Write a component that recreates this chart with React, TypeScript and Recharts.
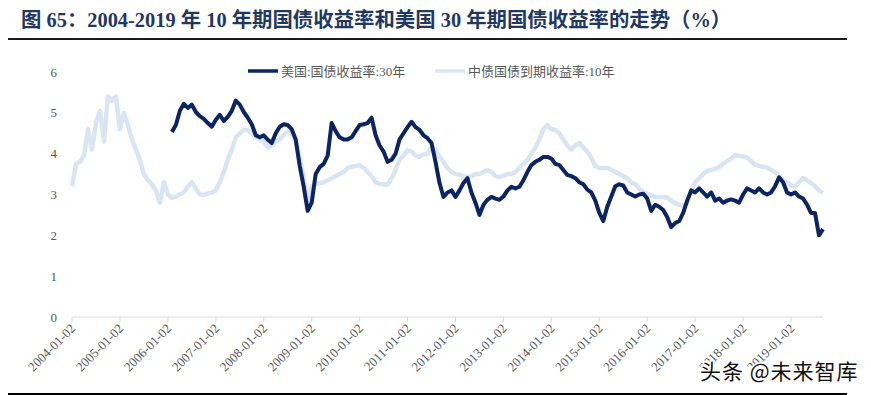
import React from "react";
import { LineChart, Line, XAxis, YAxis } from "recharts";

// Monthly samples, first month is 2004-01.
const START_YEAR = 2004;
const US_START_MONTH = 25; // US 30Y series begins 2006-02

const yearTicks = [
  2004, 2005, 2006, 2007, 2008, 2009, 2010, 2011, 2012, 2013, 2014, 2015, 2016,
  2017, 2018, 2019,
];
const yTicks = [0, 1, 2, 3, 4, 5, 6];

// 中债国债到期收益率:10年
const cnYield10 = [
  3.2, 3.75, 3.8, 3.95, 4.6, 4.1, 4.75, 5.05, 4.3, 5.4, 5.3, 5.4,
  4.6, 5.0, 4.7, 4.35, 4.1, 3.85, 3.5, 3.35, 3.25, 3.1, 2.8, 3.3,
  3.0, 2.92, 2.95, 3.0, 3.05, 3.2, 3.3, 3.15, 3.0, 2.99, 3.02, 3.05,
  3.1, 3.3, 3.55, 3.85, 4.1, 4.4, 4.5, 4.58, 4.58, 4.5, 4.4, 4.35,
  4.3, 4.15, 4.2, 4.3, 4.35, 4.45, 4.55, 4.5, 4.3, 3.9, 3.4, 2.8,
  3.2, 3.25, 3.28, 3.3, 3.35, 3.4, 3.45, 3.5, 3.55, 3.65, 3.68, 3.7,
  3.72, 3.65, 3.55, 3.45, 3.3, 3.26, 3.25, 3.24, 3.4, 3.6, 3.85, 3.95,
  4.08, 4.05, 3.95, 3.92, 3.98, 4.0, 4.15, 4.1, 3.92, 3.8, 3.65, 3.55,
  3.5, 3.48, 3.45, 3.43, 3.45, 3.5, 3.5, 3.55, 3.6, 3.55, 3.45, 3.43,
  3.45, 3.5, 3.5, 3.55, 3.65, 3.75, 3.85, 4.0, 4.15, 4.35, 4.6, 4.7,
  4.6, 4.58, 4.5, 4.35, 4.2, 4.1, 4.2, 4.26, 4.15, 4.05, 3.9, 3.7,
  3.65, 3.65, 3.65, 3.6, 3.55, 3.5, 3.45, 3.4, 3.3, 3.25, 3.15, 3.05,
  3.02, 2.98, 2.94, 2.94, 2.94, 2.92, 2.85, 2.79, 2.75, 2.72, 2.8, 3.1,
  3.3, 3.4, 3.5, 3.58, 3.6, 3.63, 3.67, 3.75, 3.82, 3.88, 3.97, 3.95,
  3.93, 3.9, 3.82, 3.73, 3.7, 3.68, 3.66, 3.6, 3.55, 3.45, 3.35, 3.3,
  3.22, 3.19, 3.3, 3.4, 3.35, 3.28, 3.2, 3.1, 3.04,
];

// 美国:国债收益率:30年, from 2006-02
const usYield30 = [
  4.53, 4.7, 5.05, 5.22, 5.12, 5.2, 5.02, 4.92, 4.85, 4.75, 4.66,
  4.83, 4.95, 4.8, 4.9, 5.05, 5.3, 5.2, 5.02, 4.88, 4.72, 4.45, 4.4,
  4.45, 4.34, 4.26, 4.5, 4.66, 4.72, 4.7, 4.6, 4.35, 3.7, 3.2, 2.6,
  2.8, 3.5, 3.67, 3.75, 3.95, 4.75, 4.55, 4.4, 4.35, 4.35, 4.4, 4.55,
  4.7, 4.72, 4.75, 4.88, 4.45, 4.2, 4.05, 3.8, 3.85, 4.0, 4.35, 4.5,
  4.65, 4.78, 4.65, 4.58, 4.45, 4.38, 4.26, 3.8, 3.28, 2.94, 3.05, 3.1,
  2.94, 3.1, 3.28, 3.4, 3.05, 2.8, 2.5, 2.75, 2.87, 2.94, 2.9, 2.87,
  2.95, 3.1, 3.19, 3.15, 3.19, 3.35, 3.55, 3.72, 3.8, 3.85, 3.92, 3.92,
  3.88, 3.75, 3.72, 3.6, 3.48, 3.45, 3.4, 3.3, 3.25, 3.12, 3.05, 2.85,
  2.55, 2.35, 2.7, 2.95, 3.2, 3.25, 3.22, 3.05, 3.0, 2.95, 3.0, 3.02,
  2.9, 2.6, 2.75, 2.7, 2.62, 2.45, 2.2, 2.3, 2.35, 2.55, 2.85, 3.1,
  3.05, 3.15, 3.05, 2.95, 3.05, 2.85, 2.9, 2.8, 2.85, 2.88, 2.85, 2.8,
  3.0, 3.15, 3.1, 3.05, 3.15, 3.05, 3.0, 3.05, 3.2, 3.42, 3.3, 3.05,
  3.0, 3.05, 2.95, 2.9, 2.75, 2.55, 2.55, 2.0, 2.15,
];

const data = cnYield10.map((cn, m) => ({
  m,
  cn,
  us: m >= US_START_MONTH ? usYield30[m - US_START_MONTH] : null,
}));

const LAST_MONTH = cnYield10.length - 1;

const NAVY = "#0B2463";
const PALE = "#DAE5F3";
const GREY_TEXT = "#595959";
const SERIF = "'Liberation Serif', 'Times New Roman', serif";
const MIXED = "'Liberation Serif', 'Noto Sans CJK SC', serif";

function YearTick(props: any) {
  const { x, y, payload } = props;
  const year = START_YEAR + Math.round(payload.value / 12);
  return (
    <g transform={`translate(${x + 1},${y + 2})`}>
      <text
        x={0}
        y={0}
        dy="0.35em"
        textAnchor="end"
        transform="rotate(-45)"
        fill={GREY_TEXT}
        fontSize={13}
        fontFamily={SERIF}
      >
        {`${year}-01-02`}
      </text>
    </g>
  );
}

export default function App() {
  return (
    <div
      style={{
        position: "absolute",
        left: 0,
        top: 0,
        width: 871,
        height: 395,
        background: "#fff",
      }}
    >
      <LineChart
        width={871}
        height={395}
        data={data}
        margin={{ top: 72, right: 48, bottom: 18, left: 32 }}
      >
        <XAxis
          type="number"
          dataKey="m"
          domain={[0, LAST_MONTH]}
          ticks={yearTicks.map((y) => (y - START_YEAR) * 12)}
          tick={<YearTick />}
          height={60}
          tickSize={5}
          tickMargin={2}
          axisLine={{ stroke: "#D9D9D9" }}
          tickLine={{ stroke: "#D9D9D9" }}
          interval={0}
        />
        <YAxis
          domain={[0, 6]}
          ticks={yTicks}
          width={40}
          axisLine={false}
          tickLine={false}
          tickMargin={9}
          tick={{ fill: GREY_TEXT, fontSize: 13, fontFamily: SERIF }}
        />
        <Line
          dataKey="cn"
          type="linear"
          stroke={PALE}
          strokeWidth={4.5}
          dot={false}
          isAnimationActive={false}
          strokeLinejoin="round"
        />
        <Line
          dataKey="us"
          type="linear"
          stroke={NAVY}
          strokeWidth={4}
          dot={false}
          connectNulls={false}
          isAnimationActive={false}
          strokeLinejoin="round"
        />
      </LineChart>

      {/* title, rules, legend and watermark */}
      <svg
        width={871}
        height={395}
        style={{ position: "absolute", left: 0, top: 0, pointerEvents: "none" }}
      >
        <text
          x={21}
          y={27}
          fill="#1F3864"
          fontSize={20.4}
          fontWeight="bold"
          fontFamily={MIXED}
        >
          图 65：2004-2019 年 10 年期国债收益率和美国 30 年期国债收益率的走势（%）
        </text>
        <line x1={8} x2={847} y1={39} y2={39} stroke="#1a1a1a" strokeWidth={2} />

        <line x1={248} x2={278} y1={71} y2={71} stroke={NAVY} strokeWidth={3.5} />
        <text x={281} y={75.5} fill={GREY_TEXT} fontSize={13} fontFamily={MIXED}>
          美国:国债收益率:30年
        </text>
        <line x1={435} x2={465} y1={71} y2={71} stroke={PALE} strokeWidth={3.5} />
        <text x={468} y={75.5} fill={GREY_TEXT} fontSize={13} fontFamily={MIXED}>
          中债国债到期收益率:10年
        </text>

        <text
          x={700}
          y={379}
          fill="#111"
          stroke="#fff"
          strokeWidth={3}
          paintOrder="stroke"
          fontSize={21}
          letterSpacing={1}
          fontFamily="'Noto Sans CJK SC', sans-serif"
        >
          头条 @未来智库
        </text>
        <line x1={8} x2={847} y1={394} y2={394} stroke="#000" strokeWidth={2} />
      </svg>
    </div>
  );
}
